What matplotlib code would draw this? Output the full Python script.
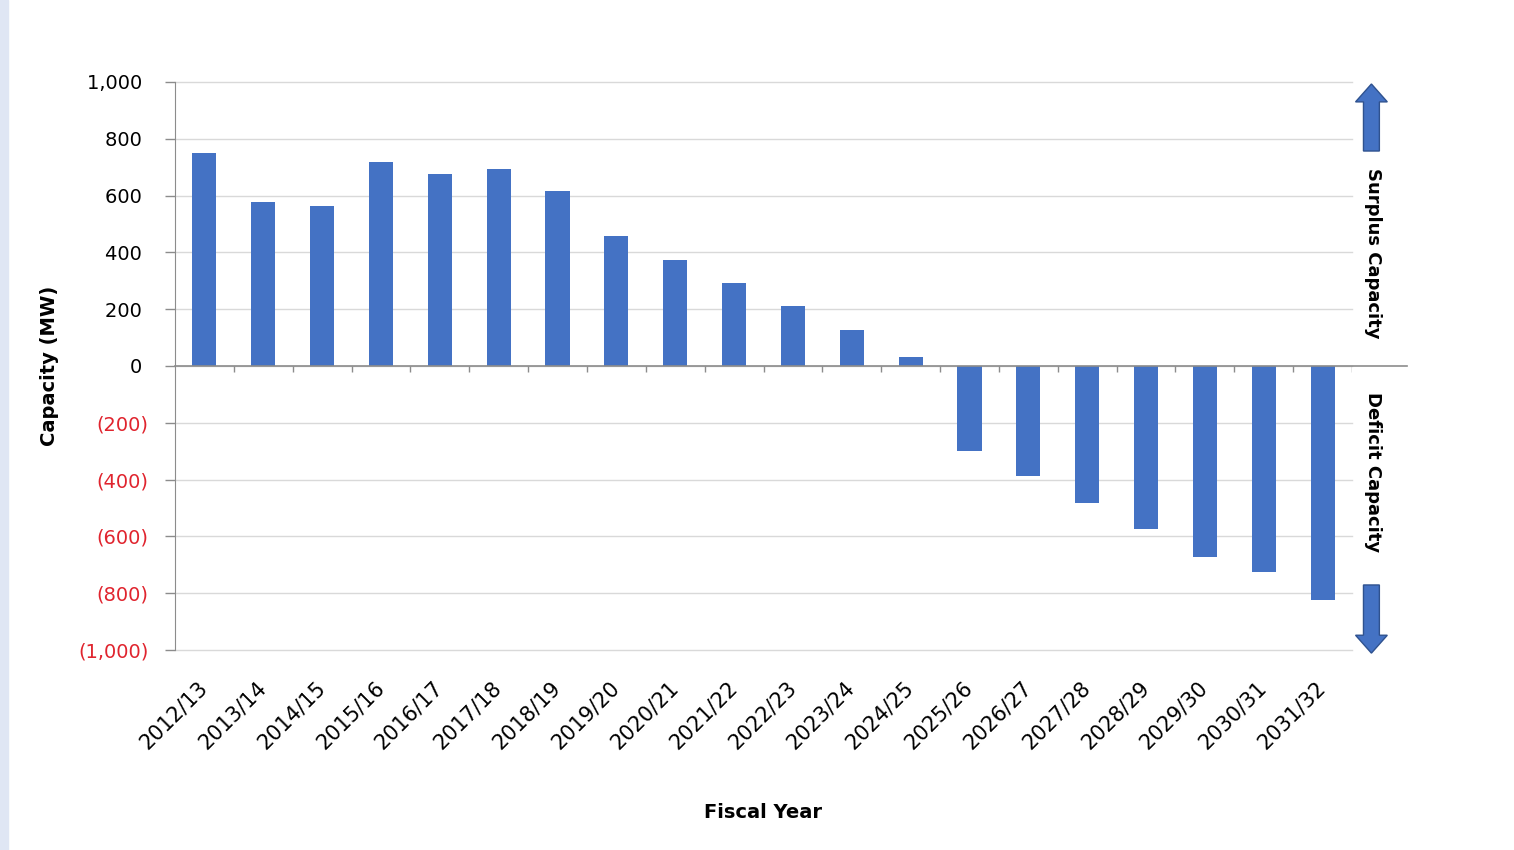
import numpy as np
import matplotlib.pyplot as plt
from matplotlib.patches import FancyArrow, Rectangle

plt.rcParams['font.family'] = ['DejaVu Sans']

years = ['2012/13', '2013/14', '2014/15', '2015/16', '2016/17', '2017/18', '2018/19',
         '2019/20', '2020/21', '2021/22', '2022/23', '2023/24', '2024/25', '2025/26',
         '2026/27', '2027/28', '2028/29', '2029/30', '2030/31', '2031/32']
capacity = [750, 577, 563, 718, 676, 694, 616, 458, 373, 292, 211, 127, 32,
            -299, -387, -482, -574, -673, -725, -824]
yticks = [1000, 800, 600, 400, 200, 0, -200, -400, -600, -800, -1000]

blue = '#4472C4'
red = '#e0242e'
grey = '#8c8c8c'

def fmt(v):
    if v < 0:
        return '({:,})'.format(-v)
    return '{:,} '.format(v)

fig = plt.figure(figsize=(15.14, 8.5), dpi=100)
fig.patches.append(Rectangle((0, 0), 8/1514, 1, transform=fig.transFigure,
                             color='#dfe6f4', zorder=0))
ax = fig.add_axes([175/1514, 1-650/850, 1177/1514, 568/850])

x = np.arange(len(years))
ax.bar(x, capacity, width=0.41, color=blue, zorder=3)

ax.set_xlim(-0.5, len(years) - 0.5)
ax.set_ylim(-1000, 1000)
ax.set_yticks(yticks)
ax.set_yticklabels([fmt(v) for v in yticks])
for lab, v in zip(ax.get_yticklabels(), yticks):
    lab.set_color(red if v < 0 else 'black')
ax.tick_params(axis='y', length=7, width=1, color=grey, pad=12, labelsize=14)
ax.grid(axis='y', color='#d9d9d9', lw=1, zorder=0)
for gl in ax.get_ygridlines():
    gl.set_clip_on(False)

for s in ['top', 'right', 'bottom']:
    ax.spines[s].set_visible(False)
ax.spines['left'].set_color(grey)

# zero line with category boundary ticks
ax.plot([0, 1.047], [0.5, 0.5], transform=ax.transAxes, color=grey, lw=1.2,
        clip_on=False, zorder=4)
ax.vlines(x + 0.5, -22, 0, color=grey, lw=1, zorder=4)

ax.set_xticks(x)
ax.set_xticklabels(years, rotation=45, ha='right', va='center',
                   rotation_mode='anchor', fontsize=15)
ax.tick_params(axis='x', length=0, pad=25)

ax.set_ylabel('Capacity (MW)', fontsize=14, fontweight='bold', labelpad=14)
ax.set_xlabel('Fiscal Year', fontsize=14, fontweight='bold', labelpad=36)

# surplus / deficit arrows
ax_x = len(years) - 0.5 + 0.33
up = FancyArrow(ax_x, 757, 0, 236, width=0.27, head_width=0.54, head_length=63,
                length_includes_head=True, fc=blue, ec='#2f528f', lw=1,
                clip_on=False, zorder=5)
down = FancyArrow(ax_x, -771, 0, -240, width=0.27, head_width=0.54, head_length=63,
                  length_includes_head=True, fc=blue, ec='#2f528f', lw=1,
                  clip_on=False, zorder=5)
ax.add_patch(up)
ax.add_patch(down)
ax.text(ax_x + 0.03, 398, 'Surplus Capacity', rotation=-90, ha='center', va='center',
        fontsize=13, fontweight='bold', clip_on=False)
ax.text(ax_x + 0.03, -373, 'Deficit Capacity', rotation=-90, ha='center', va='center',
        fontsize=13, fontweight='bold', clip_on=False)

fig.savefig('out.png', dpi=100)
